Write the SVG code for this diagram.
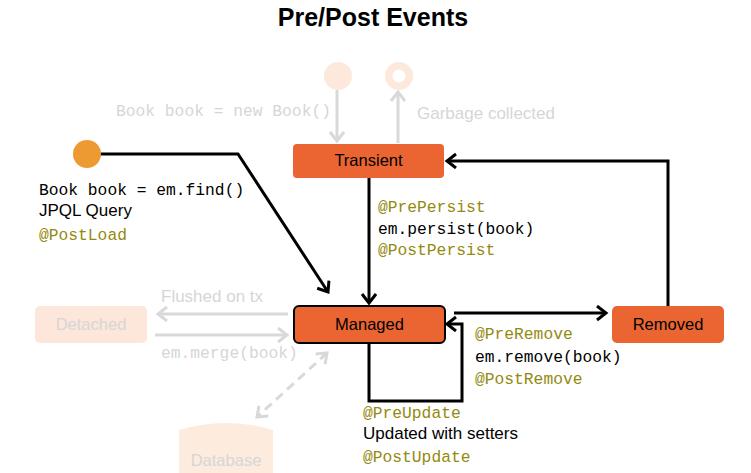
<svg xmlns="http://www.w3.org/2000/svg" width="751" height="473" viewBox="0 0 751 473">
<style>
.title{font-family:"Liberation Sans",Arial,sans-serif;font-weight:bold;font-size:25px;fill:#000}
.node{font-family:"Liberation Sans",Arial,sans-serif;font-size:16.5px;fill:#000}
.lbl{font-family:"Liberation Sans",Arial,sans-serif;font-size:17px;fill:#000}
.mono{font-family:"Liberation Mono","DejaVu Sans Mono",monospace;font-size:16.3px;fill:#000}
.ann{font-family:"Liberation Mono","DejaVu Sans Mono",monospace;font-size:16.3px;fill:#948A10}
.faded{fill:#D6D6D6}
.box{fill:#EB6532}
.fbox{fill:#FDE6DA}
.edge{fill:none;stroke:#000;stroke-width:3}
.fedge{fill:none;stroke:#D9D9D9;stroke-width:3}
</style>
<defs>
<marker id="ah" markerUnits="userSpaceOnUse" markerWidth="16" markerHeight="18" refX="11" refY="8" orient="auto">
<path d="M2,1 L11,8 L2,15" fill="none" stroke="#000" stroke-width="3"/>
</marker>
<marker id="fah" markerUnits="userSpaceOnUse" markerWidth="16" markerHeight="18" refX="11" refY="8" orient="auto-start-reverse">
<path d="M2,1 L11,8 L2,15" fill="none" stroke="#D9D9D9" stroke-width="3"/>
</marker>
</defs>
<text class="title" x="373" y="26" text-anchor="middle">Pre/Post Events</text>

<g id="connectors">
<line class="fedge" x1="337" y1="90" x2="337" y2="141" marker-end="url(#fah)"/>
<line class="fedge" x1="398" y1="143" x2="398" y2="92" marker-end="url(#fah)"/>
<line class="fedge" x1="288" y1="314" x2="158" y2="314" marker-end="url(#fah)"/>
<line class="fedge" x1="155" y1="335" x2="287" y2="335" marker-end="url(#fah)"/>
<line class="fedge" x1="327" y1="353" x2="257" y2="417" stroke-dasharray="9,6" marker-start="url(#fah)" marker-end="url(#fah)"/>
<polyline class="edge" points="100,154 238,154 328,292" marker-end="url(#ah)"/>
<line class="edge" x1="369" y1="177" x2="369" y2="303" marker-end="url(#ah)"/>
<polyline class="edge" points="668,306 668,161 447,161" marker-end="url(#ah)"/>
<line class="edge" x1="454" y1="313" x2="606" y2="313" marker-end="url(#ah)"/>
<polyline class="edge" points="369,343 369,401 462,401 462,324 447,324" marker-end="url(#ah)"/>
</g>

<g id="start-new">
<circle cx="338" cy="76" r="14" fill="#FDE9DC"/>
</g>
<g id="end-gc">
<circle cx="399" cy="76" r="14" fill="#FDE9DC"/>
<circle cx="399" cy="76" r="6.5" fill="#FFF"/>
</g>
<g id="start-find">
<circle cx="87" cy="154" r="14" fill="#EE9A32"/>
</g>

<g id="transient">
<rect class="box" x="293" y="144" width="151" height="34" rx="4"/>
<text class="node" x="368.5" y="166" text-anchor="middle">Transient</text>
</g>
<g id="managed">
<rect class="box" x="294" y="306" width="151" height="37" rx="5" stroke="#000" stroke-width="2"/>
<text class="node" x="369.5" y="330" text-anchor="middle">Managed</text>
</g>
<g id="removed">
<rect class="box" x="612" y="306" width="112" height="37" rx="5"/>
<text class="node" x="668" y="330" text-anchor="middle">Removed</text>
</g>
<g id="detached">
<rect class="fbox" x="35" y="306" width="112" height="37" rx="5"/>
<text class="node faded" x="91" y="330" text-anchor="middle">Detached</text>
</g>
<g id="database">
<path d="M179,430 Q226,416 273,430 L273,473 L179,473 Z" fill="#FDEBDE"/>
<text class="node faded" x="226" y="466" text-anchor="middle">Database</text>
</g>

<g id="labels">
<text class="mono faded" x="116" y="116">Book book = new Book()</text>
<text class="lbl faded" x="417" y="119">Garbage collected</text>
<text class="mono" x="39" y="195">Book book = em.find()</text>
<text class="lbl" x="39" y="216">JPQL Query</text>
<text class="ann" x="39" y="240">@PostLoad</text>
<text class="ann" x="378" y="212">@PrePersist</text>
<text class="mono" x="378" y="234">em.persist(book)</text>
<text class="ann" x="378" y="255">@PostPersist</text>
<text class="lbl faded" x="161" y="302">Flushed on tx</text>
<text class="mono faded" x="161" y="358">em.merge(book)</text>
<text class="ann" x="475" y="339">@PreRemove</text>
<text class="mono" x="475" y="362">em.remove(book)</text>
<text class="ann" x="475" y="384">@PostRemove</text>
<text class="ann" x="363" y="418">@PreUpdate</text>
<text class="lbl" x="363" y="439">Updated with setters</text>
<text class="ann" x="363" y="462">@PostUpdate</text>
</g>
</svg>
